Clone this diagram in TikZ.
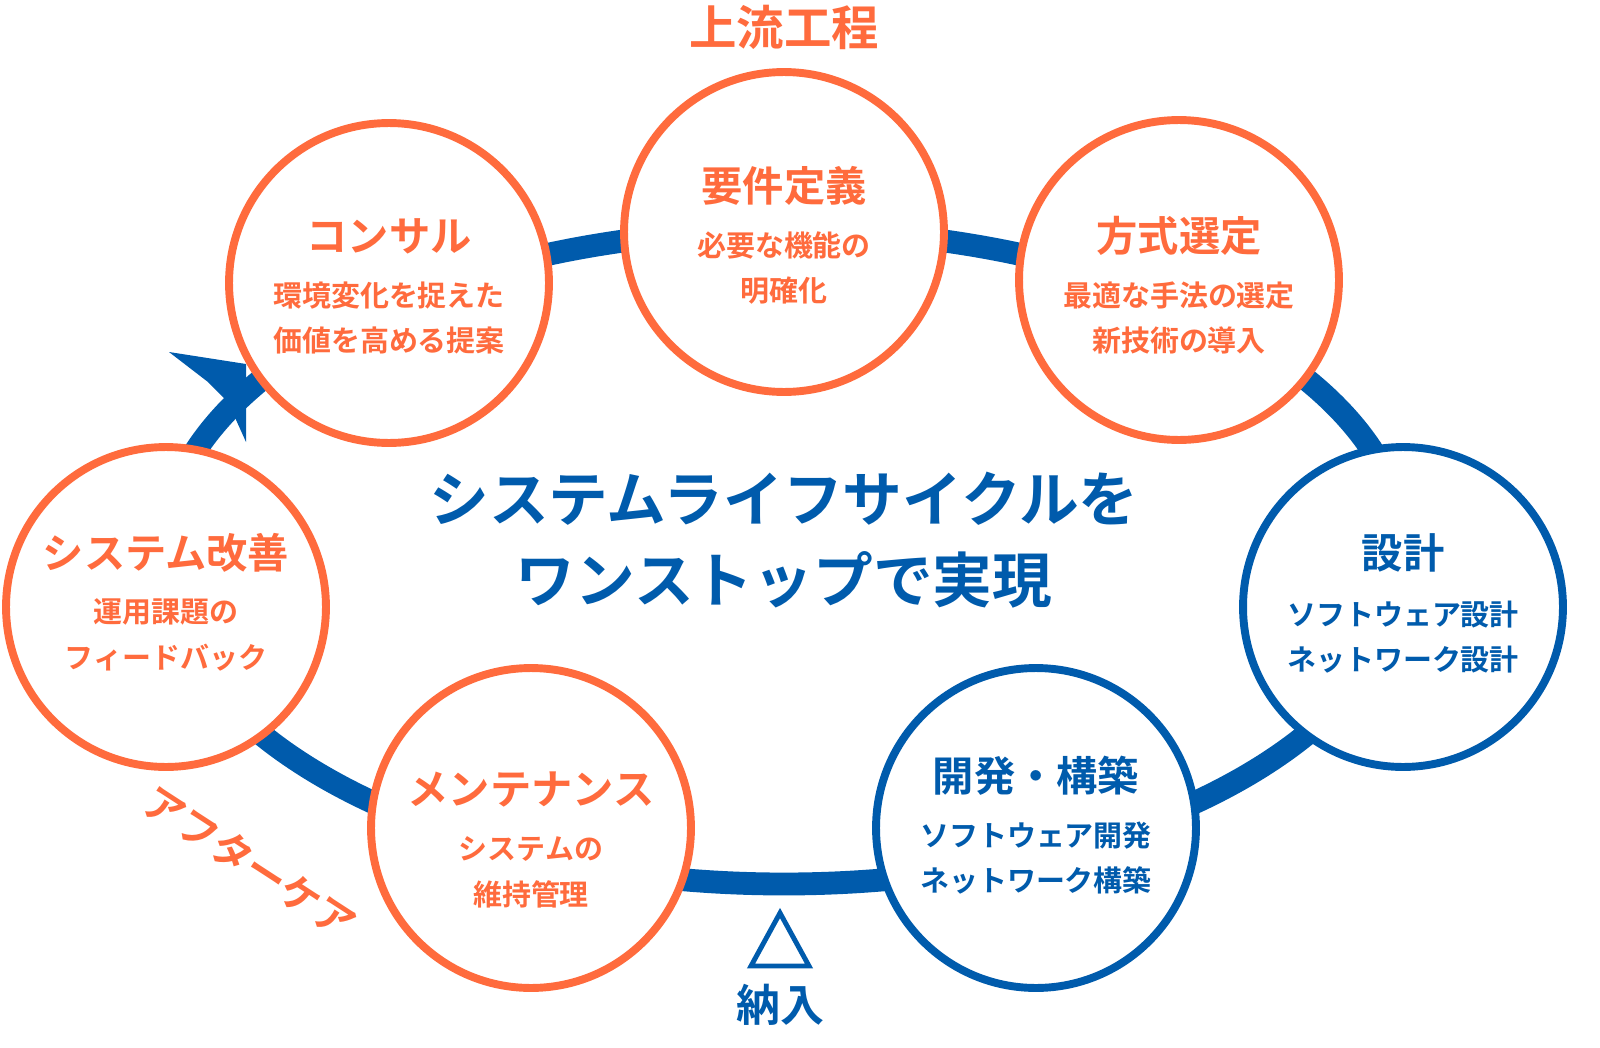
\documentclass[tikz,border=0pt]{standalone}
\usepackage{fontspec}
\setmainfont{Noto Sans CJK JP Bold}
\definecolor{stageorange}{HTML}{FF6B3D}
\definecolor{stageblue}{HTML}{005BAC}
\tikzset{
  stage/.style={circle, draw=#1, line width=4.5pt, fill=white, minimum size=6.4cm, inner sep=0pt},
  title/.style={font=\fontsize{23.5}{26}\selectfont},
  sub/.style={font=\fontsize{16.5}{26}\selectfont, align=center},
}
\begin{document}
\begin{tikzpicture}[x=0.02cm, y=-0.02cm]
    \useasboundingbox (0,0) rectangle (1600,1048);

    % Ring and arrow head
    \draw[stageblue, line width=13pt] (784,557) ellipse (622 and 327);
    \fill[stageblue] (169,352) -- (246,364) -- (246,442) -- (228,402) -- (208,382) -- cycle;

    % Stages
    \node[stage=stageorange] (consul) at (389,283) {};
    \node[stage=stageorange] (req) at (784,232) {};
    \node[stage=stageorange] (method) at (1179,280) {};
    \node[stage=stageblue] (design) at (1403,607) {};
    \node[stage=stageblue] (build) at (1036,828) {};
    \node[stage=stageorange] (maint) at (531,828) {};
    \node[stage=stageorange] (improve) at (166,607) {};

    % Stage labels
    \begin{scope}[stageorange]
    \node[title] at (389,236) {コンサル};
    \node[sub] at (389,318) {環境変化を捉えた\\価値を高める提案};
    \node[title] at (784,186) {要件定義};
    \node[sub] at (784,268) {必要な機能の\\明確化};
    \node[title] at (1179,236) {方式選定};
    \node[sub] at (1179,318) {最適な手法の選定\\新技術の導入};
    \node[title] at (531,790) {メンテナンス};
    \node[sub] at (531,872) {システムの\\維持管理};
    \node[title] at (166,553) {システム改善};
    \node[sub] at (166,635) {運用課題の\\フィードバック};
    \end{scope}
    \begin{scope}[stageblue]
    \node[title] at (1403,553) {設計};
    \node[sub] at (1403,637) {ソフトウェア設計\\ネットワーク設計};
    \node[title] at (1036,776) {開発・構築};
    \node[sub] at (1036,858) {ソフトウェア開発\\ネットワーク構築};
    \end{scope}

    % Phase labels
    \node[stageorange, font=\fontsize{27}{30}\selectfont] at (784,27) {上流工程};
    \node[stageorange, font=\fontsize{23}{26}\selectfont, rotate=-33] at (250,862) {アフターケア};
    \node[stageblue, font=\fontsize{34}{46}\selectfont, align=center] at (784,540) {システムライフサイクルを\\ワンストップで実現};

    % Delivery mark
    \draw[stageblue, line width=2.8pt, line join=miter] (780,913) -- (809,966) -- (751,966) -- cycle;
    \node[stageblue, font=\fontsize{25}{28}\selectfont] (deliver) at (780,1005) {納入};
\end{tikzpicture}
\end{document}
